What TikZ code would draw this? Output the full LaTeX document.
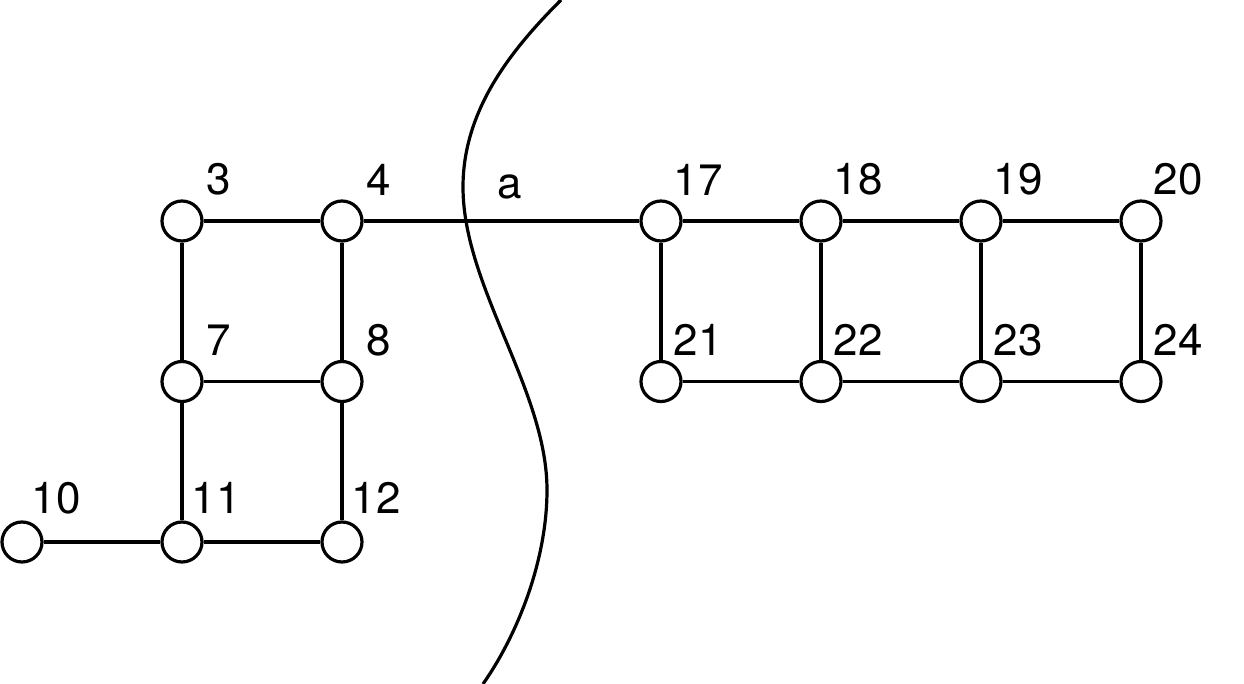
\documentclass[tikz,border=0pt]{standalone}
\usepackage{fontspec}
\setmainfont{TeX Gyre Heros}
\usetikzlibrary{matrix}

\begin{document}
\begin{tikzpicture} [x = 0.5pt, y = -0.5pt, line width = 1.6pt,
  vert/.style = {draw, circle, minimum size = 20pt, inner sep = 0pt},
  txt/.style = {font = \fontsize{22pt}{26pt}\selectfont},
  num/.style = {txt, anchor = center, label distance = 17pt, overlay}]
\useasboundingbox (0,0) rectangle (1244,684);
\matrix (m) [column sep = 58.4pt, row sep = 58.65pt, matrix anchor = v10.center] at (22,542) {
 & \node[vert, label = {[num]48:3}](v3){}; & \node[vert, label = {[num]48:4}](v4){}; &[79.5pt] \node[vert, label = {[num]48:17}](v17){}; & \node[vert, label = {[num]48:18}](v18){}; & \node[vert, label = {[num]48:19}](v19){}; & \node[vert, label = {[num]48:20}](v20){}; \\
 & \node[vert, label = {[num]48:7}](v7){}; & \node[vert, label = {[num]48:8}](v8){}; & \node[vert, label = {[num]48:21}](v21){}; & \node[vert, label = {[num]48:22}](v22){}; & \node[vert, label = {[num]48:23}](v23){}; & \node[vert, label = {[num]48:24}](v24){}; \\
\node[vert, label = {[num]52:10}](v10){}; & \node[vert, label = {[num]52:11}](v11){}; & \node[vert, label = {[num]52:12}](v12){}; & & & & \\
};
\draw (v3) -- (v4);
\draw (v4) -- (v17) node[txt, above = 7pt, pos = .53]{a};
\draw (v17) -- (v18);
\draw (v18) -- (v19);
\draw (v19) -- (v20);
\draw (v3) -- (v7);
\draw (v4) -- (v8);
\draw (v7) -- (v8);
\draw (v7) -- (v11);
\draw (v8) -- (v12);
\draw (v10) -- (v11);
\draw (v11) -- (v12);
\draw (v17) -- (v21);
\draw (v18) -- (v22);
\draw (v19) -- (v23);
\draw (v20) -- (v24);
\draw (v21) -- (v22);
\draw (v22) -- (v23);
\draw (v23) -- (v24);
\draw (561,0) .. controls (511,50) and (463,110) .. (463,187) .. controls (463,287) and (547,390) .. (547,490) .. controls (547,560) and (518,634) .. (483,684);
\end{tikzpicture}
\end{document}
